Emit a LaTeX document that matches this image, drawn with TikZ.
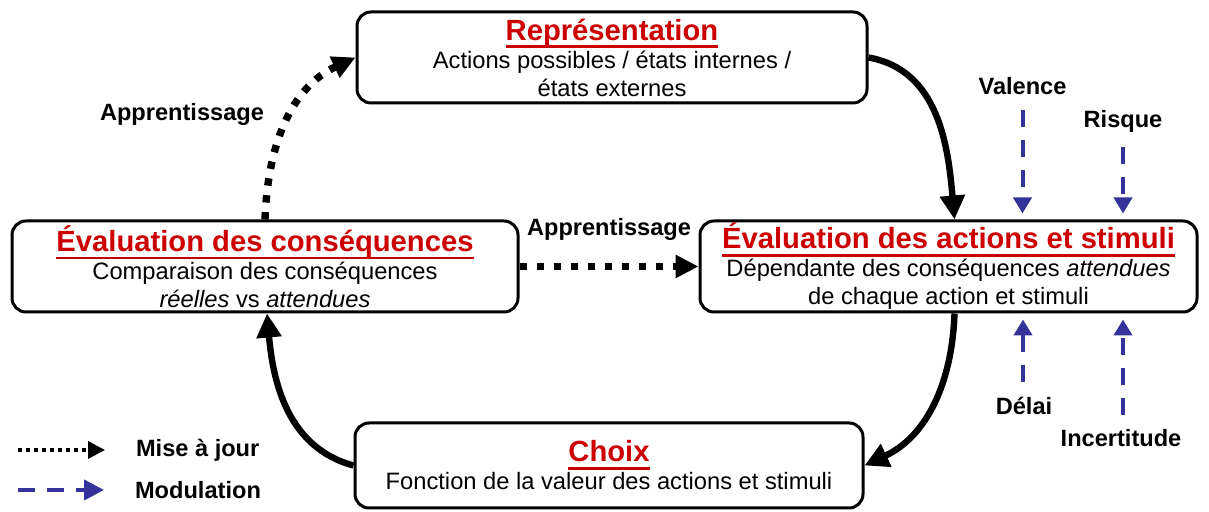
\documentclass[tikz,border=0pt]{standalone}
\usepackage{fontspec}
\setmainfont{Liberation Sans}
\usetikzlibrary{arrows.meta,positioning}
\definecolor{rouge}{RGB}{204,0,0}
\definecolor{bleu}{RGB}{51,51,153}
\newsavebox{\titrebox}
\newcommand{\titre}[1]{{\fontsize{14.6}{14}\selectfont\bfseries\color{rouge}%
  \sbox{\titrebox}{#1}\rlap{\raisebox{-4pt}{\rule{\wd\titrebox}{1.3pt}}}\usebox{\titrebox}}}

\begin{document}
\begin{tikzpicture}[x=.5pt,y=.5pt,
  boite/.style={draw,fill=white,line width=1.5pt,rounded corners=7pt,align=center,inner sep=0pt,
    font=\fontsize{11.85}{14}\selectfont},
  lbl/.style={font=\fontsize{11.8}{14}\selectfont\bfseries},
  fleche/.style={line width=3.2pt,-{Triangle[length=12pt,width=12pt]}},
  apprend/.style={line width=3.7pt,dash pattern=on 3.7pt off 4.8pt,-{Triangle[length=11.5pt,width=11pt]}},
  modul/.style={bleu,line width=2pt,dash pattern=on 8.5pt off 6.5pt,-{Triangle[length=8pt,width=9pt]},
    shorten <=4pt,shorten >=3pt}]
\useasboundingbox (0,0) rectangle (1209,512);
%
\node[boite,minimum width=255pt,minimum height=45.5pt] (rep) at (612,454.5)
  {\titre{Représentation}\\Actions possibles / états internes /\\états externes};
\node[boite,minimum width=253pt,minimum height=45.5pt] (evc) at (265,245.5)
  {\titre{Évaluation des conséquences}\\Comparaison des conséquences\\\textit{réelles} vs \textit{attendues}};
\node[boite,minimum width=248.5pt,minimum height=45.5pt] (eva) at (948.5,245.5)
  {\titre{Évaluation des actions et stimuli}\\Dépendante des conséquences \textit{attendues}\\de chaque action et stimuli};
\node[boite,minimum width=254pt,minimum height=42.5pt] (cho) at (609,46.5)
  {\titre{Choix}\\Fonction de la valeur des actions et stimuli};
%
\draw[fleche] (rep.east) to[out=-10,in=95] ([xshift=3pt]eva.north);
\draw[fleche] ([xshift=3pt]eva.south) to[out=-92,in=25] (cho.east);
\draw[fleche] (cho.west) to[out=165,in=-85] ([xshift=1pt]evc.south);
%
\draw[apprend] (evc.north) to[out=88,in=205] (rep.west);
\node[lbl] (app1) at (182,398) {Apprentissage};
\draw[apprend] (evc.east) -- (eva.west) node[midway,above=8pt,lbl] (app2) {Apprentissage};
%
\node[lbl] (val) at (1022.5,425.5) {Valence};
\node[lbl] (ris) at (1123,391) {Risque};
\node[lbl] (del) at (1024,106) {Délai};
\node[lbl] (inc) at (1121,73.5) {Incertitude};
\draw[modul] (val.south) -- (val.south |- eva.north);
\draw[modul] (ris.south) -- (ris.south |- eva.north);
\draw[modul] ([xshift=-.5pt]del.north) -- ([xshift=-.5pt]del.north |- eva.south);
\draw[modul] ([xshift=1pt]inc.north) -- ([xshift=1pt]inc.north |- eva.south);
%
\coordinate (majA) at (18,62);
\coordinate (majB) at (105,62);
\coordinate (modA) at (18,22);
\coordinate (modB) at (104,22);
\draw[line width=1.75pt,dash pattern=on 1.75pt off 2.25pt,-{Triangle[length=8.5pt,width=8.5pt]}] (majA) -- (majB);
\draw[bleu,line width=2pt,dash pattern=on 8.5pt off 6pt,-{Triangle[length=10pt,width=10pt]}] (modA) -- (modB);
\node[lbl,right=12pt of majB] (maj) {Mise à jour};
\node[lbl,right=12pt of modB] (mod) {Modulation};
\end{tikzpicture}
\end{document}
